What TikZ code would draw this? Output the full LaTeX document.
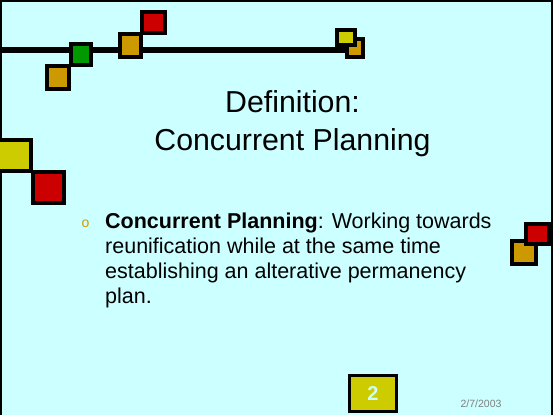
\documentclass[tikz,border=0pt]{standalone}
\usepackage{fontspec}
\setmainfont{Liberation Sans}
\definecolor{bgcyan}{RGB}{204,255,255}
\definecolor{sqyellow}{RGB}{204,204,0}
\definecolor{sqorange}{RGB}{204,153,0}
\definecolor{sqred}{RGB}{204,0,0}
\definecolor{sqgreen}{RGB}{0,153,0}
\definecolor{dategray}{RGB}{128,128,128}
\tikzset{
  sq/.style={draw=black, line width=4pt},
  body/.style={anchor=base west, inner sep=0pt, font=\fontsize{21.5}{24}\selectfont},
  titletext/.style={anchor=base, inner sep=0pt, font=\fontsize{30.3}{34}\selectfont}
}
\begin{document}
\begin{tikzpicture}[x=1pt,y=-1pt]
\useasboundingbox (0,0) rectangle (553,415);
\fill[bgcyan] (0,0) rectangle (553,415);
% frame
\draw[line width=2.5pt] (1,415) -- (1,1.2) -- (552,1.2) -- (552,415);
% top line
\draw[line width=6.5pt] (0,50) -- (350,50);
% squares
\filldraw[sq, fill=sqorange] (47,66) rectangle (69,89);
\filldraw[sq, fill=sqgreen] (71,44) rectangle (91,65);
\filldraw[sq, fill=sqred] (142,12) rectangle (165,33);
\filldraw[sq, fill=sqorange] (120,34) rectangle (141,57);
\filldraw[sq, fill=sqorange] (347,39) rectangle (363,57);
\filldraw[sq, fill=sqyellow] (337,30) rectangle (355,45);
\filldraw[sq, fill=sqyellow] (-2,140) rectangle (31,171);
\filldraw[sq, fill=sqred] (33,172) rectangle (64,203);
\filldraw[sq, fill=sqorange] (512,241) rectangle (536,264);
\filldraw[sq, fill=sqred] (526,224) rectangle (549,244);
% title
\node[titletext] (t1) at (292.5,112) {Definition:};
\node[titletext] (t2) at (292.5,150) {Concurrent Planning};
% bullet
\node[anchor=base, inner sep=0pt, text=sqorange, font=\fontsize{14}{16}\selectfont] (b) at (85.5,227) {o};
% body
\node[body] (l1) at (105,228) {\textbf{Concurrent Planning}: Working towards};
\node[body] (l2) at (105,253) {reunification while at the same time};
\node[body] (l3) at (105,278) {establishing an alterative permanency};
\node[body] (l4) at (105,303) {plan.};
% page number
\node[sq, line width=3.5pt, fill=sqyellow, minimum width=47pt, minimum height=36pt, inner sep=0pt, text=bgcyan, font=\bfseries\fontsize{20}{24}\selectfont] (pn) at (373,393.5) {2};
% date
\node[anchor=base, inner sep=0pt, text=dategray, font=\fontsize{10.5}{12}\selectfont] (d) at (481,407) {2/7/2003};
\end{tikzpicture}
\end{document}
